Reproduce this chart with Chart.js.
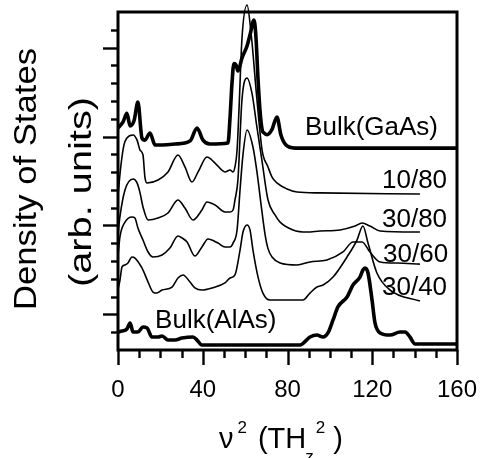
<!DOCTYPE html>
<html>
<head>
<meta charset="utf-8">
<script src="https://cdn.jsdelivr.net/npm/chart.js@4.4.0/dist/chart.umd.min.js"></script>
<style>
  html, body { margin: 0; padding: 0; background: #fff; }
  canvas { display: block; }
</style>
</head>
<body>
<canvas id="dos" width="480" height="458"></canvas>
<script>
// ── Spectra: [nu^2, DOS offset units] ───────────────────────────────
const bulkGaAs = [
  [0,12.48],[2.4,12.82],[4.2,13.3],[5.7,12.6],[7.6,12.9],[9.4,13.94],[11.3,11.92],[12.7,11.8],
  [15.1,12.2],[17.5,11.52],[26.9,11.58],[34.0,11.75],[37.3,12.48],[40.1,11.8],[43.4,11.58],
  [51.9,11.64],[52.9,13.1],[53.8,15.0],[54.7,16.1],[55.7,16.02],[56.6,15.68],[58.5,16.41],
  [60.9,17.09],[62.3,17.71],[64.2,18.55],[65.1,17.6],[66.1,15.2],[67.0,13.5],[68.0,12.4],
  [68.9,12.2],[70.3,12.1],[72.7,12.4],[75.0,13.1],[76.9,12.09],[79.3,11.52],[83.5,11.35],[160,11.35]
];
const sl10_80 = [
  [0,8.71],[1.4,10.4],[2.8,11.52],[4.2,11.92],[7.1,12.09],[9.0,11.8],[10.4,11.24],[11.8,10.96],
  [12.7,9.72],[13.7,9.39],[18.9,9.56],[23.6,10.01],[28.3,10.96],[31.6,10.29],[34.9,9.44],
  [37.8,10.01],[42.0,10.85],[45.8,10.51],[50.5,10.01],[52.9,10.12],[54.3,10.01],[55.2,10.29],
  [56.2,11.24],[57.1,13.5],[58.5,17.5],[60.9,19.39],[62.8,17.82],[65.6,14.05],[68.0,11.24],
  [70.8,10.29],[72.7,9.72],[75.0,9.39],[79.8,9.05],[84.5,8.88],[95.3,8.83],[142.5,8.77]
];
const sl30_80 = [
  [0,6.5],[0.9,7.48],[3.3,8.99],[7.1,9.61],[9.0,9.39],[10.4,8.83],[11.8,8.04],[14.2,7.31],
  [18.9,7.42],[23.6,7.7],[28.3,8.43],[31.6,7.98],[35.4,7.31],[39.6,7.87],[42.0,8.32],[45.8,8.15],
  [50.5,7.76],[52.9,7.76],[54.3,7.87],[55.2,8.43],[56.6,9.56],[58.5,14.05],[60.9,15.29],
  [63.2,14.45],[65.6,12.5],[68.0,10.6],[70.8,8.43],[74.1,7.59],[76.5,7.19],[82.6,6.75],
  [89.2,6.63],[95.3,6.69],[104.8,6.75],[111.9,6.97],[115.2,7.14],[118.9,6.97],[123.7,6.69],[142.5,6.63]
];
const sl30_60 = [
  [0,5.28],[0.9,6.35],[3.3,7.19],[6.6,7.48],[8.0,7.42],[9.4,6.86],[11.8,6.18],[14.2,5.51],
  [16.5,5.23],[20.8,5.34],[24.5,5.73],[28.3,6.41],[30.2,6.3],[32.6,6.07],[36.3,5.28],[39.6,5.79],
  [42.5,6.24],[47.2,6.01],[50.5,5.79],[52.9,5.79],[54.3,6.01],[56.2,6.75],[57.6,9.0],[59.0,11.0],
  [60.9,12.37],[63.7,11.41],[65.6,10.0],[67.5,8.2],[69.4,6.5],[70.8,5.7],[72.7,5.23],[76.5,4.89],
  [84.5,4.78],[90.6,4.95],[98.6,5.06],[106.2,5.51],[110.9,6.07],[115.2,6.07],[118.9,5.51],
  [123.7,4.95],[131.7,4.89],[142.5,4.83]
];
const sl30_40 = [
  [0,3.4],[0.9,3.9],[1.9,4.67],[3.3,4.78],[4.7,4.89],[6.6,5.23],[8.0,5.17],[11.3,4.61],
  [14.2,3.82],[16.5,3.26],[18.4,3.2],[20.8,3.37],[25.5,3.54],[28.3,4.05],[30.7,4.22],[34.0,3.82],
  [36.3,3.49],[39.6,3.37],[44.4,3.49],[50.5,3.77],[52.9,4.05],[55.2,4.22],[57.6,5.62],[59.0,6.63],
  [60.9,7.03],[62.3,6.75],[63.7,5.62],[66.1,4.1],[68.4,3.2],[71.7,2.81],[87.3,2.81],[90.6,3.2],
  [93.9,3.54],[96.8,3.65],[101.5,4.1],[108.1,5.23],[112.8,6.18],[115.6,6.97],[118.0,6.01],
  [122.2,4.33],[128.4,3.37],[142.5,2.75]
];
const bulkAlAs = [
  [0,1.01],[1.9,1.07],[4.2,1.18],[5.7,1.52],[7.1,1.01],[9.4,1.01],[11.8,1.29],[13.7,1.24],
  [16.0,0.73],[18.9,0.73],[20.8,0.79],[23.6,0.56],[26.9,0.56],[30.2,0.67],[35.4,0.73],[37.3,0.56],
  [39.6,0.28],[85.9,0.28],[90.6,0.73],[93.9,0.84],[96.8,0.73],[99.1,0.96],[101.5,1.69],
  [103.8,2.42],[108.1,2.98],[110.9,3.65],[114.2,4.1],[115.6,4.5],[116.6,4.61],[118.0,4.33],
  [119.9,2.81],[121.3,1.52],[123.7,0.96],[128.4,0.84],[133.1,1.01],[135.5,1.01],[137.8,0.73],
  [140.2,0.34],[160,0.34]
];

const seriesNames = ['Bulk(GaAs)', '10/80', '30/80', '30/60', '30/40', 'Bulk(AlAs)'];
const xTickLabels = [0, 40, 80, 120, 160];

const FONT = '"Liberation Sans", Arial, Helvetica, sans-serif';

function toPts(arr) { return arr.map(p => ({ x: p[0], y: p[1] })); }

function line(label, arr, width) {
  return {
    label, data: toPts(arr), borderColor: '#000', borderWidth: width,
    pointRadius: 0, fill: false, cubicInterpolationMode: 'monotone', clip: false
  };
}

// ── Frame, ticks, labels and titles ─────────────────────────────────
const framePlugin = {
  id: 'frame',
  afterDatasetsDraw(chart) {
    const { ctx, chartArea: a, scales: { x, y } } = chart;
    ctx.save();
    ctx.strokeStyle = '#000';
    ctx.lineCap = 'butt';

    // y ticks (left, outward)
    ctx.lineWidth = 2.4;
    for (let v = 1; v < 19; v++) {
      const py = Math.round(y.getPixelForValue(v)) + 0.5;
      const len = (v - 2) % 5 === 0 ? 15 : 7;
      ctx.beginPath(); ctx.moveTo(a.left - len, py); ctx.lineTo(a.left, py); ctx.stroke();
    }
    // x ticks (down, outward)
    for (let v = 0; v <= 160; v += 10) {
      const px = Math.round(x.getPixelForValue(v)) + 0.5;
      const len = v % 40 === 0 ? 15 : 8;
      ctx.beginPath(); ctx.moveTo(px, a.bottom); ctx.lineTo(px, a.bottom + len); ctx.stroke();
    }
    // box
    ctx.lineWidth = 3;
    ctx.strokeRect(a.left, a.top, a.right - a.left, a.bottom - a.top);

    ctx.fillStyle = '#000';
    // x tick labels
    ctx.font = '24px ' + FONT;
    ctx.textAlign = 'center';
    ctx.textBaseline = 'alphabetic';
    xTickLabels.forEach(v => ctx.fillText(String(v), x.getPixelForValue(v), 397));

    // curve labels, left/baseline anchored in data units
    const spots = [[88.3, 12.09], [124.6, 9.11], [124.6, 6.91], [125.1, 4.95], [124.6, 3.09], [17.5, 1.24]];
    ctx.font = '26px ' + FONT;
    ctx.textAlign = 'left';
    seriesNames.forEach((t, i) => {
      ctx.fillText(t, x.getPixelForValue(spots[i][0]), y.getPixelForValue(spots[i][1]));
    });

    // y title, two rotated lines stretched to length
    const rot = (text, bx, cy, len) => {
      ctx.save();
      ctx.font = '32px ' + FONT;
      ctx.translate(bx, cy);
      ctx.rotate(-Math.PI / 2);
      const w = ctx.measureText(text).width;
      ctx.scale(len / w, 1);
      ctx.textAlign = 'center';
      ctx.fillText(text, 0, 0);
      ctx.restore();
    };
    rot('Density of States', 36, 179, 262);
    rot('(arb. units)', 91, 192, 190);

    // x title: nu^2 (TH_z^2)
    ctx.textAlign = 'left';
    let px = 219;
    const big = '29px ' + FONT, small = '17px ' + FONT;
    ctx.font = big; ctx.fillText('ν', px, 448); px += ctx.measureText('ν').width + 4;
    ctx.font = small; ctx.fillText('2', px, 433); px += ctx.measureText('2').width + 11;
    ctx.font = big; ctx.fillText('(TH', px, 448); px += ctx.measureText('(TH').width - 1;
    ctx.font = small; ctx.fillText('z', px, 462);
    const zx = px + ctx.measureText('z').width + 2;
    ctx.fillText('2', zx, 433);
    px = zx + ctx.measureText('2').width + 8;
    ctx.font = big; ctx.fillText(')', px, 448);

    ctx.restore();
  }
};

new Chart(document.getElementById('dos'), {
  type: 'line',
  data: {
    datasets: [
      line(seriesNames[0], bulkGaAs, 3.6),
      line(seriesNames[1], sl10_80, 1.6),
      line(seriesNames[2], sl30_80, 1.6),
      line(seriesNames[3], sl30_60, 1.6),
      line(seriesNames[4], sl30_40, 1.6),
      line(seriesNames[5], bulkAlAs, 3.6)
    ]
  },
  options: {
    responsive: false,
    animation: false,
    layout: { padding: { top: 12, right: 23, left: 0, bottom: 0 } },
    plugins: { legend: { display: false }, tooltip: { enabled: false } },
    scales: {
      x: {
        type: 'linear', min: 0, max: 160,
        ticks: { display: false },
        grid: { display: false, drawTicks: false },
        border: { display: false },
        afterFit(s) { s.height = 108; }
      },
      y: {
        type: 'linear', min: 0, max: 19,
        ticks: { display: false },
        grid: { display: false, drawTicks: false },
        border: { display: false },
        afterFit(s) { s.width = 118; }
      }
    }
  },
  plugins: [framePlugin]
});
</script>
</body>
</html>
